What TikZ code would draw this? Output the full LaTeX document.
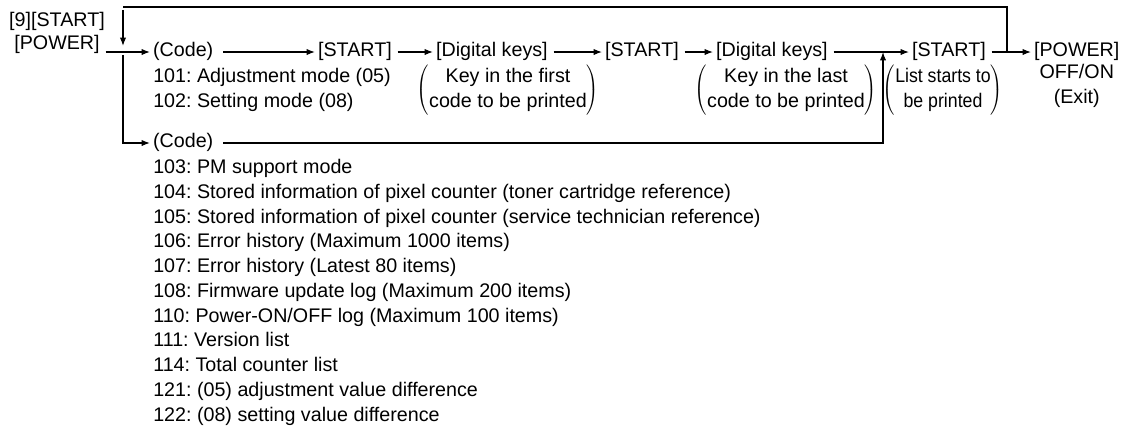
\documentclass[tikz,border=0pt]{standalone}
\usepackage{fontspec}
\setmainfont{Liberation Sans}
\usetikzlibrary{arrows.meta, positioning}
\frenchspacing

\begin{document}
\begin{tikzpicture}[
  x=0.025cm, y=-0.025cm,
  every node/.style={font=\fontsize{14}{17.6}\selectfont},
  key/.style={inner xsep=2pt, inner ysep=0pt, text height=10pt, text depth=3pt},
  lst/.style={inner sep=0pt, align=left, anchor=north west},
  note/.style={inner sep=0pt, align=center},
  arr/.style={-{Latex[length=6pt, width=4.5pt]}, line width=0.8pt, shorten <=2pt},
  ln/.style={line width=0.8pt},
]
\useasboundingbox (0,0) rectangle (1128,436);

% Entry keys
\node[key] (nine) at (57,22) {[9][START]};
\node[key] (power) at (57,45) {[POWER]};

% Main row
\node[key, anchor=west] (code1) at (150,52) {(Code)};
\node[key, anchor=west] (start1) at (315,52) {[START]};
\node[key, anchor=west] (dig1) at (433,52) {[Digital keys]};
\node[key, anchor=west] (start2) at (602,52) {[START]};
\node[key, anchor=west] (dig2) at (713,52) {[Digital keys]};
\node[key, anchor=west] (start3) at (909,52) {[START]};
\node[key, anchor=west] (power2) at (1031,52) {[POWER]};

% Notes under the keys
\node[lst] (modes) at (153,68) {101: Adjustment mode (05)\\102: Setting mode (08)};
\node[note] (first) at (508,90) {$\left(\begin{tabular}{@{}c@{}}Key in the first\\code to be printed\end{tabular}\right)$};
\node[note] (last) at (786,90) {$\left(\begin{tabular}{@{}c@{}}Key in the last\\code to be printed\end{tabular}\right)$};
\node[note] (prints) at (943,90) {$\left(\scalebox{0.9}[1]{\begin{tabular}{@{}c@{}}List starts to\\be printed\end{tabular}}\right)$};
\node[note, below=2pt of power2] (exit) {OFF/ON\\(Exit)};

% List codes
\node[key, anchor=west] (code2) at (150,143) {(Code)};
\node[lst] (lists) at (153,159) {103: PM support mode\\
104: Stored information of pixel counter (toner cartridge reference)\\
105: Stored information of pixel counter (service technician reference)\\
106: Error history (Maximum 1000 items)\\
107: Error history (Latest 80 items)\\
108: Firmware update log (Maximum 200 items)\\
110: Power-ON/OFF log (Maximum 100 items)\\
111: Version list\\
114: Total counter list\\
121: (05) adjustment value difference\\
122: (08) setting value difference};

% Loop and branch points
\coordinate (loopr) at (1007,7);
\coordinate (loopl) at (123,7);
\coordinate (jointop) at (123,46);
\coordinate (merge) at (883,52);

% Arrows
\draw[arr] (power.east |- code1) -- (code1);
\draw[arr, shorten <=5pt] (code1) -- (start1);
\draw[arr] (start1) -- (dig1);
\draw[arr] (dig1) -- (start2);
\draw[arr] (start2) -- (dig2);
\draw[arr] (dig2) -- (start3);
\draw[arr] (start3) -- (power2);
\draw[ln] (start3.east -| loopr) |- (loopl);
\draw[arr] (loopl) -- (jointop);
\draw[arr] (loopl |- power.east) ++(0,7) |- (code2);
\draw[arr, shorten <=5pt] (code2) -| (merge);

\end{tikzpicture}
\end{document}
